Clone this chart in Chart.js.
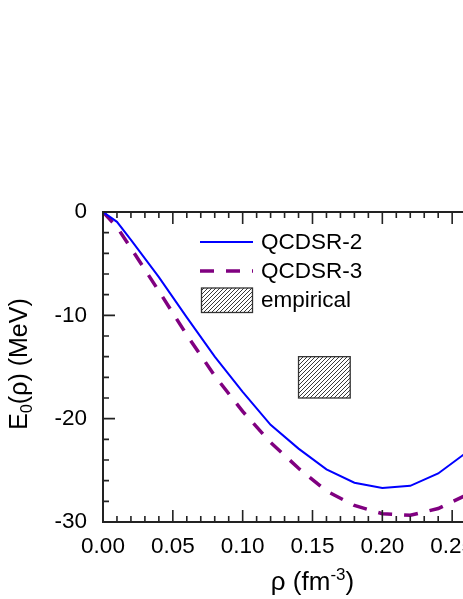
<!DOCTYPE html>
<html>
<head>
<meta charset="utf-8">
<script src="https://cdn.jsdelivr.net/npm/chart.js@4"></script>
<style>
  html, body { margin: 0; padding: 0; background: #fff; overflow: hidden; }
  #wrap { width: 463px; height: 599px; overflow: hidden; }
  canvas { display: block; }
</style>
</head>
<body>
<div id="wrap"><canvas id="grafico" width="560" height="599"></canvas></div>
<script>
// === DADOS ===
const rho = [0, 0.01, 0.02, 0.04, 0.06, 0.08, 0.10, 0.12, 0.14, 0.16, 0.18, 0.20, 0.22, 0.24, 0.26];
const eQCDSR2 = [0, -0.95, -2.7, -6.3, -10.2, -14.0, -17.4, -20.6, -22.9, -24.9, -26.2, -26.7, -26.5, -25.3, -23.3];
const eQCDSR3 = [0, -1.45, -3.5, -7.65, -11.9, -15.85, -19.3, -22.3, -24.8, -27.0, -28.4, -29.2, -29.35, -28.7, -27.4];
const empRho = [0.140, 0.177];
const empE = [-18.0, -14.0];
const xTickLabels = [0, 0.05, 0.10, 0.15, 0.20, 0.25, 0.30];
const yTickLabels = [0, -10, -20, -30];
const legendLabels = ["QCDSR-2", "QCDSR-3", "empirical"];

const FONT = "'Liberation Sans', Arial, sans-serif";
const AXIS = "#222";

// hachura do retângulo empírico
function hatch(ctx) {
  const c = document.createElement("canvas");
  c.width = 4; c.height = 4;
  const g = c.getContext("2d");
  g.strokeStyle = "#222";
  g.lineWidth = 0.9;
  g.beginPath();
  g.moveTo(-1, 5); g.lineTo(5, -1);
  g.moveTo(-1, 1); g.lineTo(1, -1);
  g.moveTo(3, 5); g.lineTo(5, 3);
  g.stroke();
  return ctx.createPattern(c, "repeat");
}

// texto com sub/sobrescrito
function richText(ctx, parts, x, y) {
  let w = 0;
  parts.forEach(p => { ctx.font = p.size + "px " + FONT; w += ctx.measureText(p.t).width; });
  let cx = x - w / 2;
  parts.forEach(p => {
    ctx.font = p.size + "px " + FONT;
    ctx.fillText(p.t, cx, y + (p.dy || 0));
    cx += ctx.measureText(p.t).width;
  });
}

const empirico = {
  id: "empirico",
  beforeDatasetsDraw(chart) {
    const { ctx, scales: { x, y } } = chart;
    const x0 = x.getPixelForValue(empRho[0]), x1 = x.getPixelForValue(empRho[1]);
    const y0 = y.getPixelForValue(empE[1]), y1 = y.getPixelForValue(empE[0]);
    ctx.save();
    ctx.fillStyle = hatch(ctx);
    ctx.fillRect(x0, y0, x1 - x0, y1 - y0);
    ctx.strokeStyle = "#333";
    ctx.lineWidth = 1.3;
    ctx.strokeRect(x0, y0, x1 - x0, y1 - y0);
    ctx.restore();
  }
};

const eixos = {
  id: "eixos",
  afterDatasetsDraw(chart) {
    const { ctx, chartArea: a, scales: { x, y } } = chart;
    ctx.save();
    ctx.strokeStyle = AXIS;
    ctx.lineWidth = 2;
    ctx.strokeRect(a.left, a.top, a.right - a.left, a.bottom - a.top);
    ctx.lineWidth = 1.6;
    ctx.beginPath();
    x.ticks.forEach(t => {
      const px = x.getPixelForValue(t.value);
      const len = t.label ? 12 : 6;
      ctx.moveTo(px, a.bottom); ctx.lineTo(px, a.bottom - len);
      ctx.moveTo(px, a.top); ctx.lineTo(px, a.top + len);
    });
    y.ticks.forEach(t => {
      const py = y.getPixelForValue(t.value);
      const len = t.label ? 12 : 6;
      ctx.moveTo(a.left, py); ctx.lineTo(a.left + len, py);
      ctx.moveTo(a.right, py); ctx.lineTo(a.right - len, py);
    });
    ctx.stroke();

    // legenda
    const lx = a.left + 97, tx = a.left + 158;
    const rows = [a.top + 30, a.top + 59, a.top + 88];
    ctx.font = "22.5px " + FONT;
    ctx.fillStyle = "#000";
    ctx.textBaseline = "middle";
    chart.data.datasets.forEach((ds, i) => {
      ctx.save();
      ctx.strokeStyle = ds.borderColor;
      ctx.lineWidth = ds.borderWidth;
      ctx.setLineDash(ds.borderDash || []);
      ctx.beginPath();
      ctx.moveTo(lx, rows[i]); ctx.lineTo(lx + 53, rows[i]);
      ctx.stroke();
      ctx.restore();
      ctx.fillText(legendLabels[i], tx, rows[i] + 1);
    });
    ctx.fillStyle = hatch(ctx);
    ctx.fillRect(lx + 1.5, rows[2] - 12, 51, 24.5);
    ctx.strokeStyle = "#333";
    ctx.lineWidth = 1.3;
    ctx.strokeRect(lx + 1.5, rows[2] - 12, 51, 24.5);
    ctx.fillStyle = "#000";
    ctx.fillText(legendLabels[2], tx, rows[2] + 1);

    // títulos dos eixos
    ctx.textBaseline = "alphabetic";
    richText(ctx, [
      { t: "ρ (fm", size: 26 },
      { t: "-3", size: 17, dy: -10 },
      { t: ")", size: 26 }
    ], (a.left + a.right) / 2, 590);
    ctx.translate(27, (a.top + a.bottom) / 2 - 3);
    ctx.rotate(-Math.PI / 2);
    richText(ctx, [
      { t: "E", size: 25 },
      { t: "0", size: 16, dy: 5 },
      { t: "(ρ) (MeV)", size: 25 }
    ], 0, 0);
    ctx.restore();
  }
};

function rotulo(lista, casas) {
  return v => {
    const l = lista.find(t => Math.abs(t - v) < 1e-6);
    return l === undefined ? "" : l.toFixed(casas);
  };
}

new Chart(document.getElementById("grafico"), {
  type: "line",
  data: {
    datasets: [{
      label: legendLabels[0],
      data: rho.map((r, i) => ({ x: r, y: eQCDSR2[i] })),
      borderColor: "#0000ff",
      borderWidth: 2,
      pointRadius: 0,
      tension: 0
    }, {
      label: legendLabels[1],
      data: rho.map((r, i) => ({ x: r, y: eQCDSR3[i] })),
      borderColor: "#800080",
      borderWidth: 3.5,
      borderDash: [14, 12],
      borderCapStyle: "butt",
      pointRadius: 0,
      tension: 0
    }]
  },
  options: {
    responsive: false,
    animation: false,
    layout: { padding: { top: 212, right: 38, left: 0, bottom: 0 } },
    plugins: { legend: { display: false }, tooltip: { enabled: false } },
    scales: {
      x: {
        type: "linear",
        min: 0,
        max: 0.30,
        afterFit: s => { s.height = 77; },
        grid: { display: false, drawTicks: false },
        border: { display: false },
        ticks: {
          stepSize: 0.01,
          autoSkip: false,
          maxRotation: 0,
          includeBounds: false,
          padding: 11.5,
          color: "#000",
          font: { family: FONT, size: 22.5 },
          callback: rotulo(xTickLabels, 2)
        }
      },
      y: {
        min: -30,
        max: 0,
        afterFit: s => { s.width = 103; },
        grid: { display: false, drawTicks: false },
        border: { display: false },
        ticks: {
          stepSize: 2,
          autoSkip: false,
          padding: 16,
          color: "#000",
          font: { family: FONT, size: 22.5 },
          callback: rotulo(yTickLabels, 0)
        }
      }
    }
  },
  plugins: [empirico, eixos]
});
</script>
</body>
</html>
